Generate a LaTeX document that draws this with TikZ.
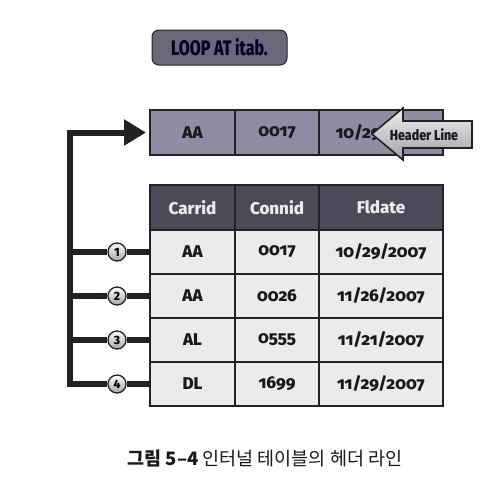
\documentclass[tikz,border=0pt]{standalone}
\usepackage{fontspec}
\setmainfont{Fira Sans}[Numbers=OldStyle, BoldFont={Fira Sans ExtraBold}]
\newfontfamily\narrowfont{Fira Sans}[FakeStretch=0.76, BoldFont={Fira Sans ExtraBold}]
\newfontfamily\tagfont{Fira Sans}[FakeStretch=0.86, BoldFont={Fira Sans ExtraBold}]
\newfontfamily\liningfont{Fira Sans}[Numbers=Lining, BoldFont={Fira Sans ExtraBold}]
\newfontfamily\krfont{Noto Sans CJK KR}
\usepackage{tikz}
\usetikzlibrary{positioning,arrows.meta}

\definecolor{inkdark}{HTML}{222226}
\definecolor{loopfill}{HTML}{6B6979}
\definecolor{hdrfill}{HTML}{8F8CA3}
\definecolor{headfill}{HTML}{4C4A59}
\definecolor{datafill}{HTML}{EBEBEE}

\begin{document}
\begin{tikzpicture}[x=1pt, y=-1pt,
  cell/.style={draw=inkdark, line width=1.6pt, inner sep=0pt, outer sep=0pt,
    minimum height=44pt, font=\fontsize{17}{20}\selectfont\bfseries, text=black!90},
  hdrcell/.style={cell, fill=hdrfill, minimum height=45pt},
  headcell/.style={cell, fill=headfill, minimum height=45pt, text=white!92!black},
  datacell/.style={cell, fill=datafill},
  loopbox/.style={draw=inkdark, line width=1pt, fill=loopfill, rounded corners=7pt,
    minimum width=135pt, minimum height=35pt, inner sep=0pt,
    font=\narrowfont\fontsize{21}{24}\selectfont\bfseries, text=black!85!blue},
  numball/.style={circle, draw=inkdark, line width=1.3pt, top color=white,
    bottom color=black!35, minimum size=18pt, inner sep=0pt,
    font=\liningfont\fontsize{12}{13}\selectfont\bfseries},
  trunk/.style={draw=inkdark, line width=6pt, line join=miter}]

\useasboundingbox (0,0) rectangle (502,480);

\node [loopbox] (loop) at (219.5,47.5) {LOOP AT itab.};

% header line
\foreach \t/\x/\w [count=\j] in {AA/192.5/85, 0017/277/84, {10/29/2007}/381/124}
  \node [hdrcell, minimum width=\w] (hdr-\j) at (\x,132.5) {\t};

% internal table
\foreach \t/\x/\w [count=\j] in {Carrid/192.5/85, Connid/277/84, Fldate/381/124}
  \node [headcell, minimum width=\w] (head-\j) at (\x,207.5) {\t};

\foreach \a/\b/\d [count=\i] in {AA/0017/{10/29/2007}, AA/0026/{11/26/2007},
    AL/0555/{11/21/2007}, DL/1699/{11/29/2007}} {
  \node [datacell, minimum width=85] (cell-\i-1) at (192.5,{208+44*\i}) {\a};
  \node [datacell, minimum width=84] (cell-\i-2) at (277,{208+44*\i}) {\b};
  \node [datacell, minimum width=124] (cell-\i-3) at (381,{208+44*\i}) {\d};
}

% loop pass
\foreach \i in {1,...,4} {
  \coordinate (trunk-\i) at (70,{208+44*\i});
  \node [numball] (num-\i) at (117,{208+44*\i}) {\i};
  \draw [trunk] (trunk-\i) -- (num-\i);
  \draw [trunk] (num-\i) -- (cell-\i-1);
}
\draw [trunk, -{Triangle[length=22pt,width=25pt]}, shorten >=4pt]
  (num-4) -- (trunk-4) |- (hdr-1);

% header line arrow
\shade [draw=inkdark, line width=1.6pt, line join=miter, top color=white!88!gray,
  bottom color=black!30!hdrfill!60]
  (372,134) -- (403,108) -- (403,121) -- (472,121) -- (472,148)
  -- (403,148) -- (403,160) -- cycle;
\node [font=\tagfont\fontsize{14.5}{17}\selectfont\bfseries, text=black!90]
  (hdrlabel) at (424,134.5) {Header Line};

\node [font=\krfont\fontsize{18.5}{22}\selectfont, text=black!90] (caption) at (265,458)
  {\textbf{그림 5–4} 인터널 테이블의 헤더 라인};

\end{tikzpicture}
\end{document}
